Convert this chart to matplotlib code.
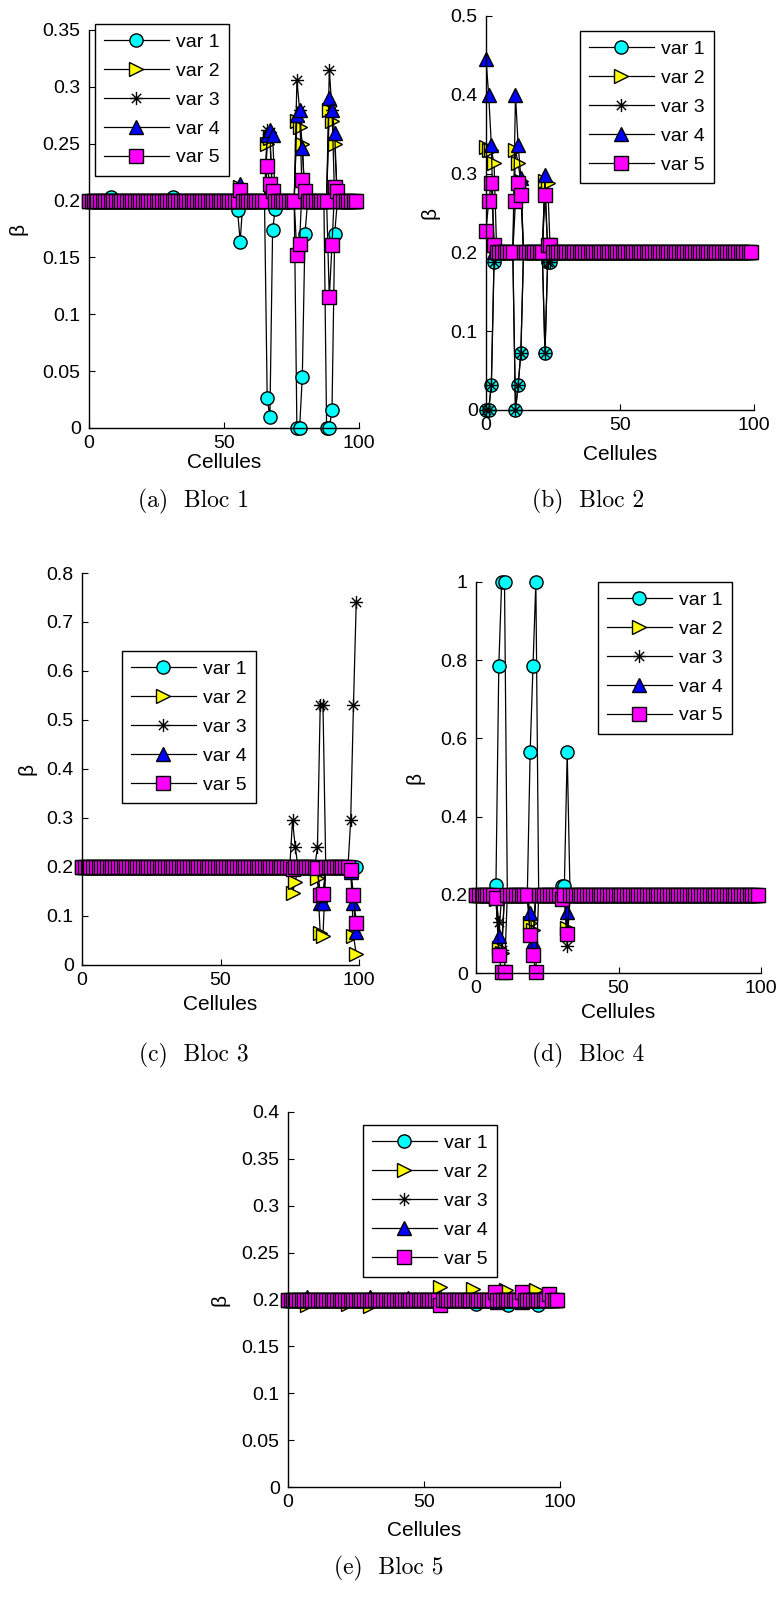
import matplotlib
matplotlib.use('Agg')
import math
import matplotlib.pyplot as plt
from matplotlib.path import Path
from matplotlib.ticker import FuncFormatter, MultipleLocator

W, H = 778, 1605
BASE = 0.2
cells = list(range(100))

labels = ['var 1', 'var 2', 'var 3', 'var 4', 'var 5']
face_colors = ['#00FFFF', '#FFFF00', 'none', '#0000FF', '#FF00FF']

# ---- values (cells not listed stay at 0.2) ----
bloc1_var1 = {8: 0.203, 31: 0.203, 55: 0.1915, 56: 0.164, 66: 0.026, 67: 0.0097,
              68: 0.174, 69: 0.193, 77: 0.0, 78: 0.0, 79: 0.045, 80: 0.171,
              88: 0.0, 89: 0.0, 90: 0.0155, 91: 0.171}
bloc1_var2 = {56: 0.212, 66: 0.25, 67: 0.255, 77: 0.27, 78: 0.265, 79: 0.25,
              89: 0.28, 90: 0.27, 91: 0.25}
bloc1_var3 = {56: 0.21, 66: 0.262, 67: 0.26, 77: 0.306, 78: 0.28, 89: 0.315, 90: 0.28}
bloc1_var4 = {56: 0.215, 66: 0.258, 67: 0.262, 68: 0.258, 77: 0.275, 78: 0.28,
              79: 0.246, 89: 0.29, 90: 0.28, 91: 0.259}
bloc1_var5 = {56: 0.209, 66: 0.23, 67: 0.215, 68: 0.208, 77: 0.152, 78: 0.162,
              79: 0.218, 80: 0.208, 89: 0.115, 90: 0.161, 91: 0.212, 92: 0.208}

bloc2_var1 = {0: 0.0, 1: 0.0, 2: 0.032, 3: 0.188, 11: 0.0, 12: 0.032, 13: 0.072,
              22: 0.072, 23: 0.188, 24: 0.188}
bloc2_var2 = {0: 0.334, 1: 0.33, 2: 0.33, 3: 0.313, 11: 0.33, 12: 0.313, 13: 0.29,
              22: 0.29, 23: 0.288}
bloc2_var3 = {0: 0.0, 1: 0.0, 2: 0.032, 3: 0.188, 11: 0.0, 12: 0.032, 13: 0.072,
              22: 0.072, 23: 0.188, 24: 0.188}
bloc2_var4 = {0: 0.445, 1: 0.40, 2: 0.336, 11: 0.40, 12: 0.336, 13: 0.295, 22: 0.298}
bloc2_var5 = {0: 0.227, 1: 0.265, 2: 0.288, 3: 0.21, 11: 0.265, 12: 0.288, 13: 0.273,
              22: 0.273, 23: 0.21, 24: 0.21}

bloc3_var1 = {24: 0.197}
bloc3_var2 = {76: 0.147, 77: 0.17, 85: 0.178, 86: 0.065, 87: 0.06, 98: 0.06, 99: 0.022}
bloc3_var3 = {76: 0.295, 77: 0.24, 85: 0.24, 86: 0.53, 87: 0.53, 97: 0.295, 98: 0.53,
              99: 0.74}
bloc3_var4 = {86: 0.127, 87: 0.127, 97: 0.19, 98: 0.127, 99: 0.068}
bloc3_var5 = {76: 0.195, 85: 0.198, 86: 0.143, 87: 0.145, 97: 0.194, 98: 0.143,
              99: 0.085}

bloc4_var1 = {7: 0.225, 8: 0.785, 9: 1.0, 10: 1.0, 19: 0.565, 20: 0.785, 21: 1.0,
              30: 0.222, 31: 0.222, 32: 0.565}
bloc4_var2 = {7: 0.19, 8: 0.065, 9: 0.05, 19: 0.128, 20: 0.11, 32: 0.115}
bloc4_var3 = {8: 0.13, 9: 0.06, 19: 0.1, 20: 0.07, 32: 0.068}
bloc4_var4 = {7: 0.195, 8: 0.094, 19: 0.153, 20: 0.08, 32: 0.155}
bloc4_var5 = {7: 0.193, 8: 0.047, 9: 0.003, 10: 0.003, 19: 0.098, 20: 0.045,
              21: 0.003, 30: 0.19, 32: 0.1}

bloc5_var1 = {69: 0.195, 81: 0.194, 92: 0.194}
bloc5_var2 = {7: 0.194, 22: 0.195, 30: 0.193, 56: 0.213, 68: 0.211, 80: 0.21, 91: 0.21}
bloc5_var3 = {}
bloc5_var4 = {7: 0.203, 30: 0.203, 44: 0.202, 77: 0.197, 86: 0.197}
bloc5_var5 = {56: 0.194, 76: 0.208, 86: 0.208, 96: 0.206}

blocs = [
    [bloc1_var1, bloc1_var2, bloc1_var3, bloc1_var4, bloc1_var5],
    [bloc2_var1, bloc2_var2, bloc2_var3, bloc2_var4, bloc2_var5],
    [bloc3_var1, bloc3_var2, bloc3_var3, bloc3_var4, bloc3_var5],
    [bloc4_var1, bloc4_var2, bloc4_var3, bloc4_var4, bloc4_var5],
    [bloc5_var1, bloc5_var2, bloc5_var3, bloc5_var4, bloc5_var5],
]
y_max = [0.35, 0.5, 0.8, 1.0, 0.4]
y_step = [0.05, 0.1, 0.1, 0.2, 0.05]
captions = ['(a)  Bloc 1', '(b)  Bloc 2', '(c)  Bloc 3', '(d)  Bloc 4', '(e)  Bloc 5']

# ---- layout (pixels) ----
axes_px = [(89, 359, 30, 428), (486, 754, 16, 410), (82, 359, 573, 965),
           (476, 761, 582, 973), (288, 560, 1112, 1487)]
legend_px = [(95, 24), (580, 31), (122, 651), (598, 582), (363, 1125)]
ylabel_px = [71, 56, 55, 61, 68]
xlabel_px = [35, 45, 40, 40, 43]
caption_px = [(194, 501), (588, 501), (194, 1055), (588, 1055), (389, 1568)]

# asterisk marker (MATLAB '*')
verts, codes = [], []
for a in (0, 45, 90, 135):
    c, s = math.cos(math.radians(a)), math.sin(math.radians(a))
    verts += [(-c, -s), (c, s)]
    codes += [Path.MOVETO, Path.LINETO]
asterisk = Path(verts, codes)

markers = ['o', '>', asterisk, '^', 's']
msizes = [9.5, 10, 9.5, 10, 10]

FONT = 'Liberation Sans'
FS = 14

fig = plt.figure(figsize=(W / 100, H / 100), dpi=100)
fmt = FuncFormatter(lambda v, p: '%g' % round(v, 4))

for k in range(5):
    l, r, t, b = axes_px[k]
    ax = fig.add_axes([l / W, 1 - b / H, (r - l) / W, (b - t) / H])
    handles = []
    for j in range(5):
        vals = [blocs[k][j].get(i, BASE) for i in cells]
        h, = ax.plot(cells, vals, color='black', lw=0.9, marker=markers[j],
                     ms=msizes[j], mfc=face_colors[j], mec='black', mew=1.0,
                     label=labels[j], clip_on=False)
        handles.append(h)
    ax.set_xlim(0, 100)
    ax.set_ylim(0, y_max[k])
    ax.set_xticks([0, 50, 100])
    ax.yaxis.set_major_locator(MultipleLocator(y_step[k]))
    ax.yaxis.set_major_formatter(fmt)
    ax.xaxis.set_major_formatter(fmt)
    for s in ('top', 'right'):
        ax.spines[s].set_visible(False)
    for s in ('left', 'bottom'):
        ax.spines[s].set_linewidth(1.0)
    ax.tick_params(direction='in', length=4, width=0.8, top=False, right=False,
                   labelsize=FS, colors='black')
    ax.tick_params(axis='y', pad=6)
    ax.tick_params(axis='x', pad=5)
    for lab in ax.get_xticklabels() + ax.get_yticklabels():
        lab.set_fontfamily(FONT)
    ax.set_xlabel('Cellules', fontsize=15, fontfamily=FONT, va='center')
    ax.xaxis.set_label_coords(0.5, -xlabel_px[k] / (b - t))
    ax.set_ylabel('β', fontsize=15, fontfamily=FONT, va='center')
    ax.yaxis.set_label_coords(-ylabel_px[k] / (r - l), 0.5)

    lx, ly = legend_px[k]
    leg = fig.legend(handles=handles, loc='upper left',
                     bbox_to_anchor=(lx / W, 1 - ly / H),
                     bbox_transform=fig.transFigure, borderaxespad=0,
                     prop={'family': FONT, 'size': FS}, frameon=True,
                     fancybox=False, framealpha=1, edgecolor='black',
                     handlelength=3.3, handletextpad=0.4, labelspacing=0.58,
                     borderpad=0.48)
    leg.get_frame().set_linewidth(1.0)

    cx, cy = caption_px[k]
    fig.text(cx / W, 1 - cy / H, captions[k], ha='center', va='center',
             fontsize=17, fontfamily='cmr10')

fig.savefig('out.png', dpi=100)
